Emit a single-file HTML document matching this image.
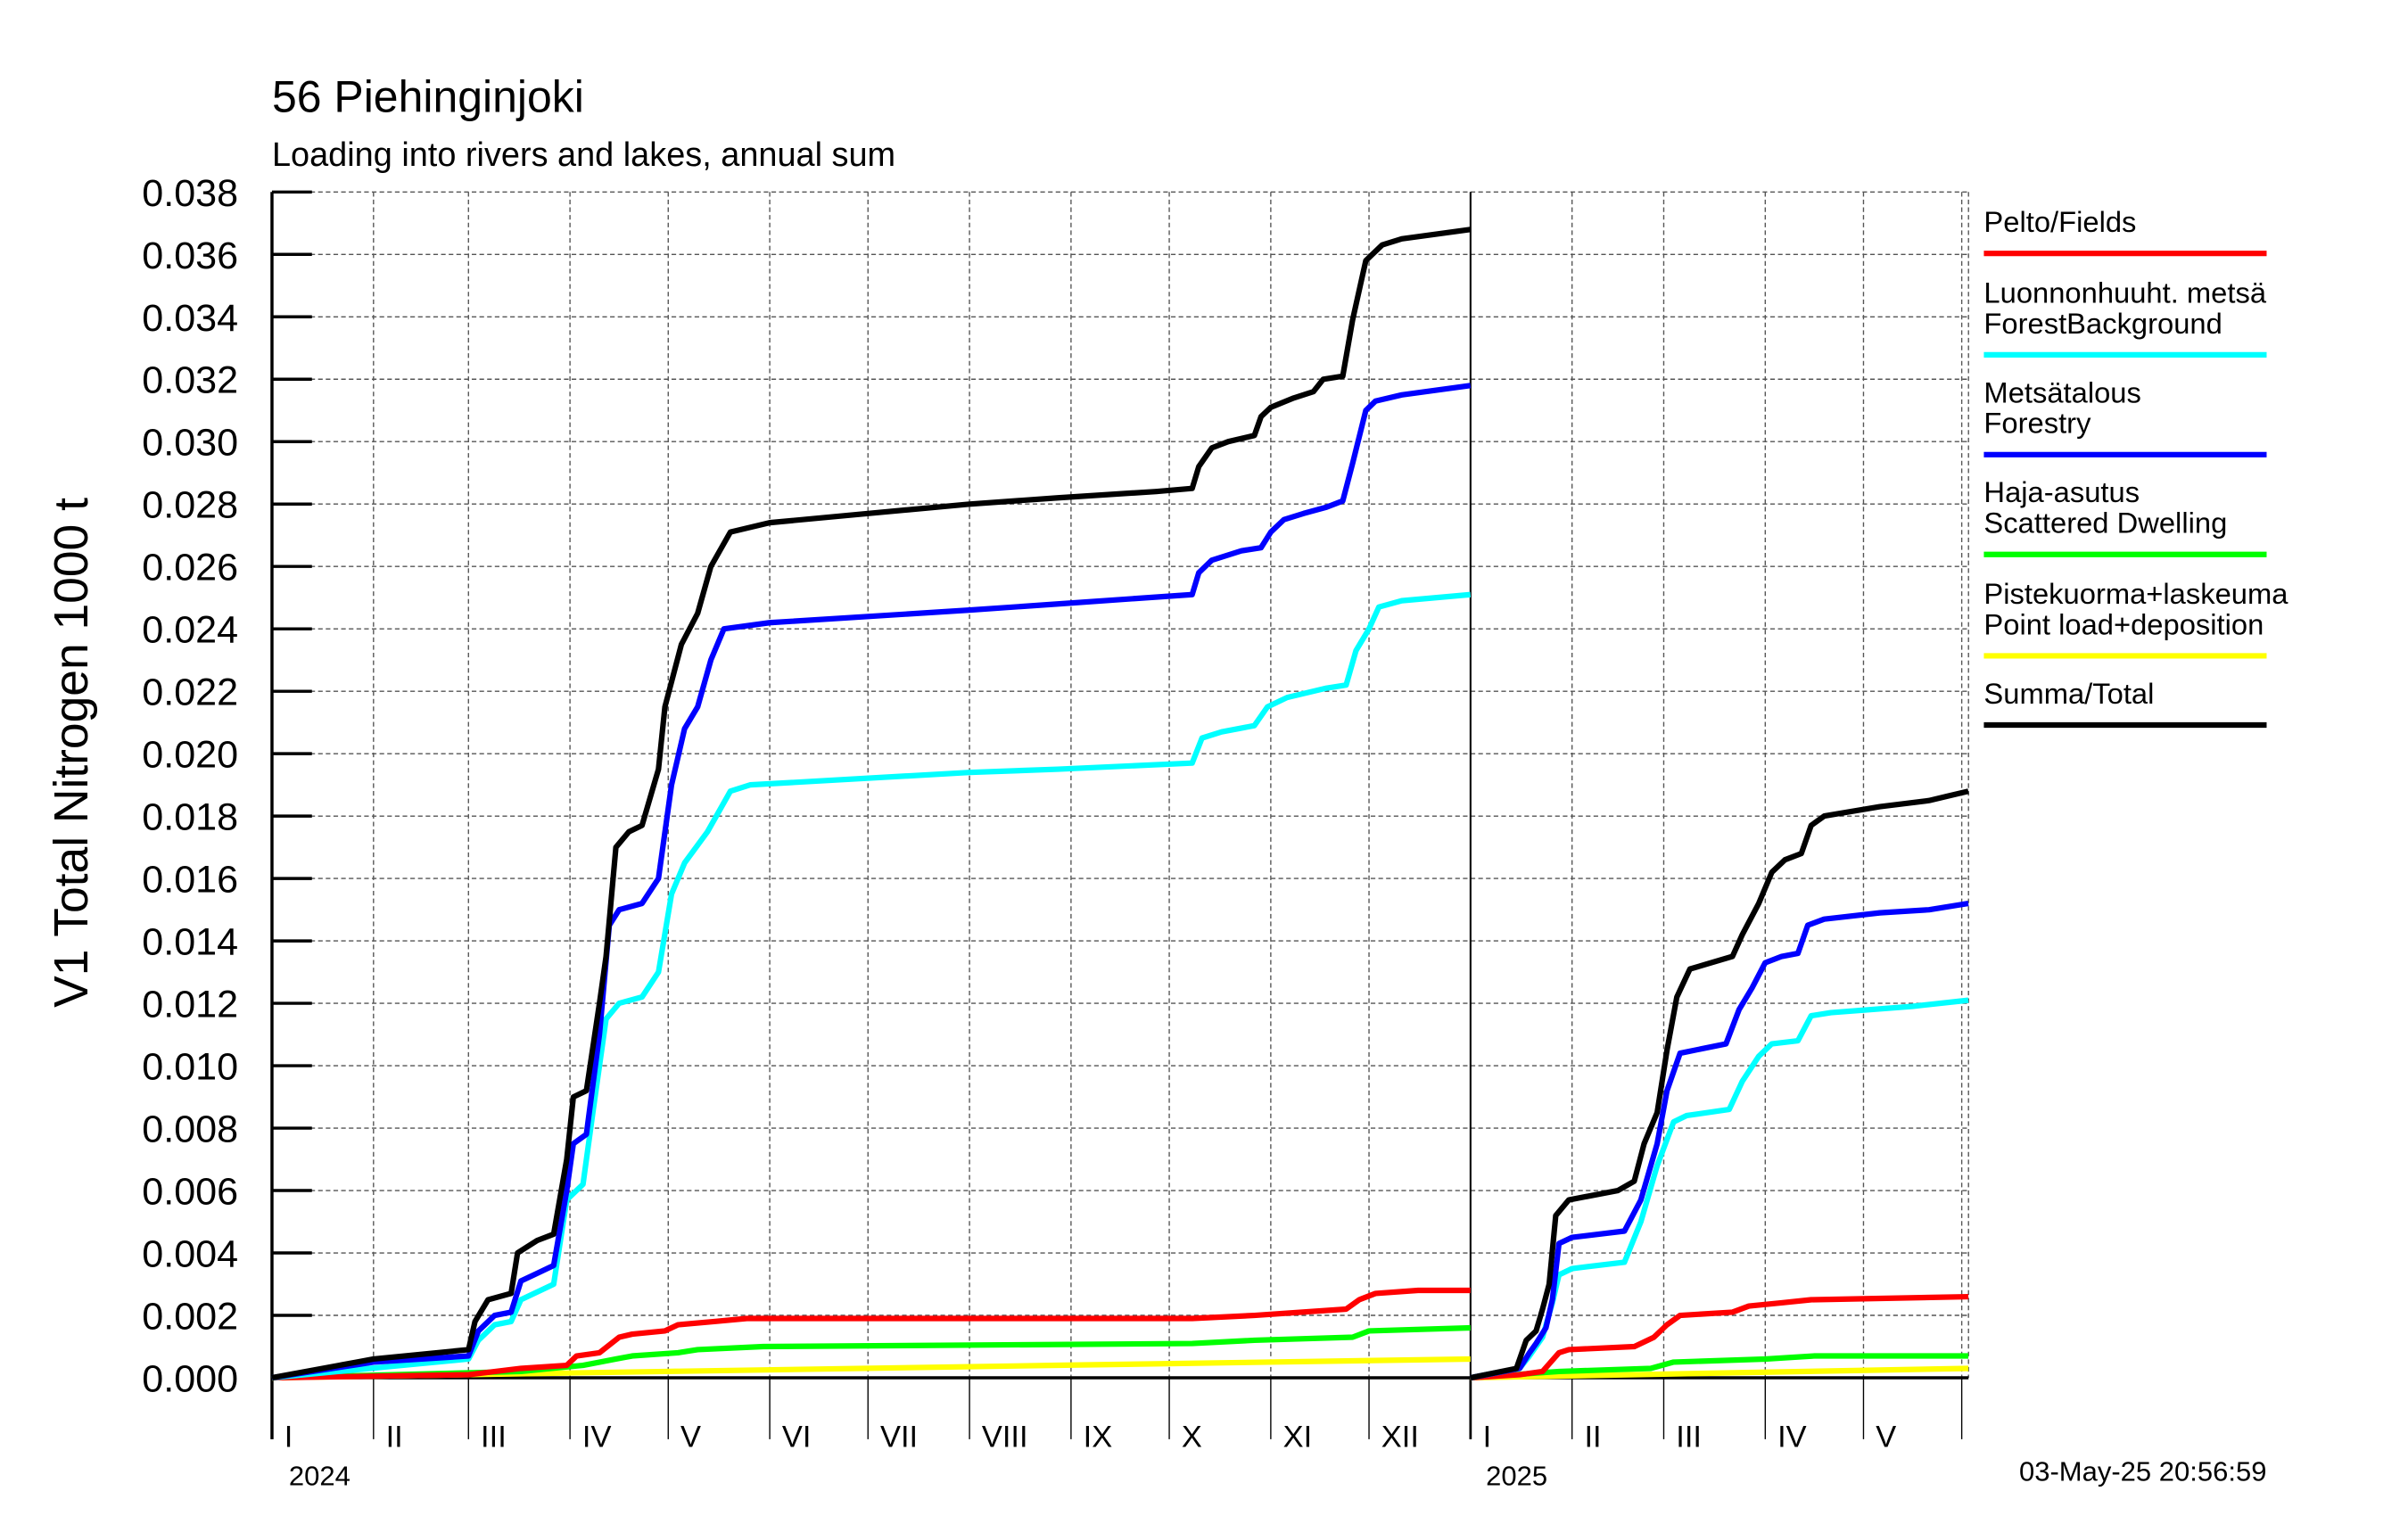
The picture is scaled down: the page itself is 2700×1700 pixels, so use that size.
<!DOCTYPE html>
<html><head><meta charset="utf-8"><style>
html,body{margin:0;padding:0;background:#fff;}
svg{display:block;font-family:"Liberation Sans",sans-serif;}
</style></head><body>
<svg id="chart" width="2700" height="1700" viewBox="0 0 1567 987" preserveAspectRatio="none" xmlns="http://www.w3.org/2000/svg">
<rect x="0" y="0" width="1567" height="987" fill="#fff"/>
<text x="177" y="73" font-size="29">56 Piehinginjoki</text>
<text x="177" y="108" font-size="22">Loading into rivers and lakes, annual sum</text>
<text transform="translate(57,490) rotate(-90)" text-anchor="middle" font-size="31">V1 Total Nitrogen 1000 t</text>
<g id="grid"></g>
<g id="axes"></g>
<g id="series"></g>
<g id="legend"></g>
<text x="188" y="967" font-size="18">2024</text>
<text x="967" y="967" font-size="18">2025</text>
<text x="1475" y="964" font-size="18" text-anchor="end">03-May-25 20:56:59</text>
</svg>
<script>
const yTicks = [0,0.002,0.004,0.006,0.008,0.010,0.012,0.014,0.016,0.018,0.020,0.022,0.024,0.026,0.028,0.030,0.032,0.034,0.036,0.038];
const monthStarts = [0,31,60,91,121,152,182,213,244,274,305,335,366,397,425,456,486,516];
const monthLabels = ["I","II","III","IV","V","VI","VII","VIII","IX","X","XI","XII","I","II","III","IV","V",""];
const seriesNames = ["Pelto/Fields","Luonnonhuuht. metsä|ForestBackground","Metsätalous|Forestry","Haja-asutus|Scattered Dwelling","Pistekuorma+laskeuma|Point load+deposition","Summa/Total"];
const seriesColors = ["#ff0000","#00ffff","#0000ff","#00ff00","#ffff00","#000000"];
const red2024 = [[0,0],[60,0.0001],[76,0.0003],[90,0.0004],[93,0.0007],[100,0.0008],[106,0.0013],[110,0.0014],[120,0.0015],[124,0.0017],[135,0.0018],[145,0.0019],[281,0.0019],[300,0.0020],[328,0.0022],[332,0.0025],[337,0.0027],[350,0.0028],[366,0.0028]];
const cyan2024 = [[0,0],[60,0.0006],[63,0.0012],[68,0.0017],[73,0.0018],[76,0.0025],[86,0.0030],[90,0.0057],[95,0.0062],[98,0.0085],[102,0.0115],[106,0.0120],[113,0.0122],[118,0.013],[122,0.0155],[126,0.0165],[133,0.0175],[140,0.0188],[146,0.0190],[213,0.0194],[240,0.0195],[281,0.0197],[284,0.0205],[290,0.0207],[300,0.0209],[304,0.0215],[310,0.0218],[322,0.0221],[328,0.0222],[331,0.0233],[335,0.0240],[338,0.0247],[345,0.0249],[366,0.0251]];
const blue2024 = [[0,0],[31,0.0005],[60,0.0007],[63,0.0015],[68,0.0020],[73,0.0021],[76,0.0031],[80,0.0033],[86,0.0036],[90,0.0060],[92,0.0075],[96,0.0078],[100,0.011],[103,0.0145],[106,0.015],[113,0.0152],[118,0.016],[122,0.019],[126,0.0208],[130,0.0215],[134,0.023],[138,0.0240],[152,0.0242],[213,0.0246],[240,0.0248],[281,0.0251],[283,0.0258],[287,0.0262],[296,0.0265],[302,0.0266],[305,0.0271],[309,0.0275],[315,0.0277],[322,0.0279],[327,0.0281],[330,0.0293],[334,0.0310],[337,0.0313],[345,0.0315],[366,0.0318]];
const green2024 = [[0,0],[76,0.0002],[95,0.0004],[105,0.0006],[110,0.0007],[124,0.0008],[130,0.0009],[150,0.0010],[281,0.0011],[300,0.0012],[330,0.0013],[335,0.0015],[366,0.0016]];
const yellow2024 = [[0,0],[120,0.0002],[240,0.0004],[366,0.0006]];
const black2024 = [[0,0],[31,0.0006],[60,0.0009],[62,0.0018],[66,0.0025],[73,0.0027],[75,0.0040],[81,0.0044],[86,0.0046],[90,0.0070],[92,0.009],[96,0.0092],[100,0.012],[102,0.0135],[105,0.0170],[109,0.0175],[113,0.0177],[118,0.0195],[120,0.0215],[125,0.0235],[130,0.0245],[134,0.026],[140,0.0271],[152,0.0274],[182,0.0277],[213,0.0280],[240,0.0282],[270,0.0284],[281,0.0285],[283,0.0292],[287,0.0298],[292,0.0300],[300,0.0302],[302,0.0308],[305,0.0311],[312,0.0314],[318,0.0316],[321,0.0320],[327,0.0321],[330,0.0339],[334,0.0358],[339,0.0363],[345,0.0365],[366,0.0368]];
const red2025 = [[0,0],[15,0.0001],[22,0.0002],[27,0.0008],[30,0.0009],[50,0.0010],[56,0.0013],[60,0.0017],[64,0.0020],[80,0.0021],[85,0.0023],[95,0.0024],[104,0.0025],[152,0.0026]];
const cyan2025 = [[0,0],[15,0.0003],[18,0.0007],[22,0.0013],[25,0.0024],[27,0.0033],[31,0.0035],[47,0.0037],[52,0.0050],[57,0.0068],[62,0.0082],[66,0.0084],[79,0.0086],[83,0.0095],[88,0.0103],[92,0.0107],[100,0.0108],[104,0.0116],[110,0.0117],[135,0.0119],[152,0.0121]];
const blue2025 = [[0,0],[15,0.0003],[18,0.0008],[20,0.0011],[23,0.0016],[25,0.0025],[27,0.0043],[31,0.0045],[47,0.0047],[52,0.0057],[57,0.0075],[60,0.0092],[64,0.0104],[78,0.0107],[82,0.0118],[86,0.0125],[90,0.0133],[95,0.0135],[100,0.0136],[103,0.0145],[108,0.0147],[125,0.0149],[140,0.0150],[152,0.0152]];
const green2025 = [[0,0],[27,0.0002],[55,0.0003],[62,0.0005],[90,0.0006],[105,0.0007],[152,0.0007]];
const yellow2025 = [[0,0],[152,0.0003]];
const black2025 = [[0,0],[14,0.0003],[17,0.0012],[20,0.0015],[22,0.0022],[24,0.0030],[26,0.0052],[30,0.0057],[45,0.0060],[50,0.0063],[53,0.0075],[57,0.0085],[60,0.0105],[63,0.0122],[67,0.0131],[80,0.0135],[83,0.0142],[88,0.0152],[92,0.0162],[96,0.0166],[101,0.0168],[104,0.0177],[108,0.0180],[125,0.0183],[140,0.0185],[152,0.0188]];

const NS="http://www.w3.org/2000/svg";
const X0=177, X1=1281, YTOP=125, YZERO=897, YMAX=0.038, PXDAY=2.131, Y2025=366;
function xScale(d){return X0+d*PXDAY;}
function yScale(v){return YZERO-(v/YMAX)*(YZERO-YTOP);}
function mk(tag,attrs,parent){const e=document.createElementNS(NS,tag);for(const k in attrs)e.setAttribute(k,attrs[k]);parent.appendChild(e);return e;}
const grid=document.getElementById('grid'), axes=document.getElementById('axes'), series=document.getElementById('series'), legend=document.getElementById('legend');

yTicks.forEach((t,i)=>{
  const y=yScale(t);
  const g=mk('line',{x1:X0,x2:X1,y1:y,y2:y,stroke:'#555','stroke-width':0.8,'stroke-dasharray':'3,2'},grid);
  
  
  const tk=mk('line',{x1:X0,x2:X0+26,y1:y,y2:y,stroke:'#000','stroke-width':2},axes);
  
  
  const lb=mk('text',{x:155,y:y+9,'text-anchor':'end','font-size':25},axes);
  
  
  lb.textContent=t.toFixed(3);
});
monthStarts.forEach((d,i)=>{
  const x=xScale(d);
  if(d>0 && d!==Y2025){
    const g=mk('line',{x1:x,x2:x,y1:YTOP,y2:YZERO,stroke:'#555','stroke-width':0.8,'stroke-dasharray':'3,2'},grid);
    
    
  }
  const tk=mk('line',{x1:x,x2:x,y1:YZERO,y2:937,stroke:'#000','stroke-width':d===Y2025||d===0?1.6:0.8},axes);
  
  
  if(monthLabels[i]){
    const lb=mk('text',{x:x+8,y:942,'font-size':20},axes);
    
    
    lb.textContent=monthLabels[i];
  }
});
{
  const r=mk('line',{x1:X1,x2:X1,y1:YTOP,y2:YZERO,stroke:'#555','stroke-width':0.8,'stroke-dasharray':'3,2'},grid);
  
  
  const ax=mk('line',{x1:X0,x2:X0,y1:YTOP,y2:937,stroke:'#000','stroke-width':2},axes);
  
  
  const yb=mk('line',{x1:xScale(Y2025),x2:xScale(Y2025),y1:YTOP,y2:937,stroke:'#000','stroke-width':1.2},axes);
  
  
  const xa=mk('line',{x1:X0,x2:X1,y1:YZERO,y2:YZERO,stroke:'#000','stroke-width':2},axes);
  
  
}
const data2024=[red2024,cyan2024,blue2024,green2024,yellow2024,black2024];
const data2025=[red2025,cyan2025,blue2025,green2025,yellow2025,black2025];
const order=[4,3,0,1,2,5];
const keys=['fields','forest-background','forestry','scattered-dwelling','point-load','total'];
order.forEach(i=>{
  [[data2024[i],0,'2024'],[data2025[i],Y2025,'2025']].forEach(([arr,off,yr])=>{
    const d=arr.map((p,j)=>(j?'L':'M')+xScale(p[0]+off).toFixed(1)+','+yScale(p[1]).toFixed(1)).join(' ');
    const p=mk('path',{d:d,fill:'none',stroke:seriesColors[i],'stroke-width':3.6,'stroke-linejoin':'round'},series);
    
    
  });
});
const legY=[165,231,296,361,427,472];
seriesNames.forEach((n,i)=>{
  const parts=n.split('|');
  const g=mk('g',{},legend);
  
  
  parts.forEach((p,k)=>{
    const t=mk('text',{x:1291,y:legY[i]-14-(parts.length-1-k)*20,'font-size':19},g);
    t.textContent=p;
  });
  mk('line',{x1:1291,x2:1475,y1:legY[i],y2:legY[i],stroke:seriesColors[i],'stroke-width':3.6},g);
});
</script>
</body></html>
